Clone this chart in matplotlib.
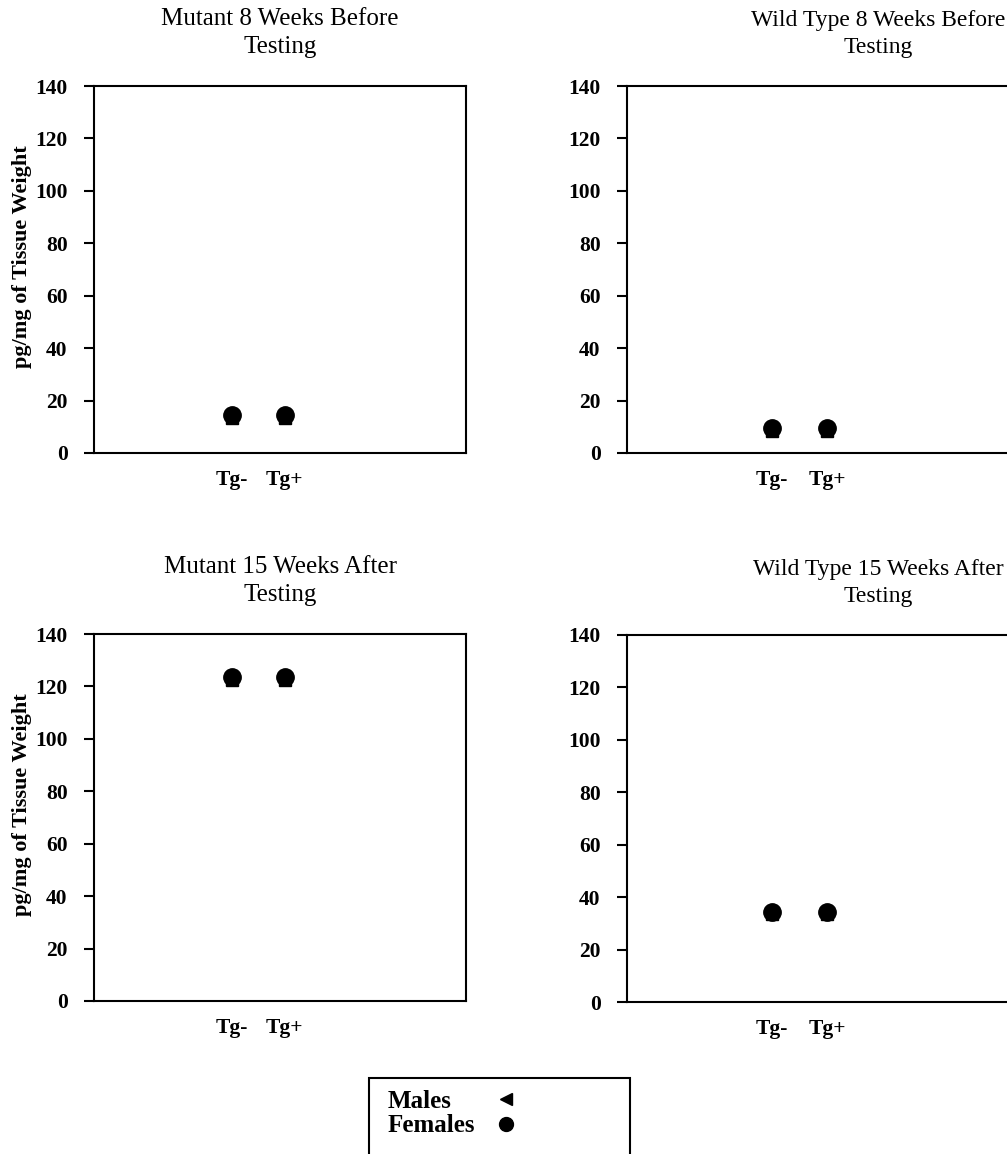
import numpy as np
import matplotlib.pyplot as plt
from matplotlib.lines import Line2D
from matplotlib.patches import Rectangle

plt.rcParams['font.family'] = ['Liberation Serif', 'DejaVu Serif']

groups = ['Tg-', 'Tg+']
titles = ['Mutant 8 Weeks Before\nTesting', 'Wild Type 8 Weeks Before\nTesting',
          'Mutant 15 Weeks After\nTesting', 'Wild Type 15 Weeks After\nTesting']
males = [[13.5, 13.5], [8.5, 8.5], [122.5, 122.5], [33.5, 33.5]]
females = [[14.5, 14.5], [9.5, 9.5], [123.5, 123.5], [34.5, 34.5]]
yticks = [0, 20, 40, 60, 80, 100, 120, 140]

fig = plt.figure(figsize=(10.07, 11.54), dpi=100)

W, H = 1007, 1154
# [left, top, right, bottom] in pixels
boxes = [[94, 86, 466, 453], [627, 86, 1017, 453],
         [94, 634, 466, 1001], [627, 635, 1017, 1002]]
title_x = [0.5, 0.645, 0.5, 0.645]
title_size = [18, 17, 18, 17]

xpos = np.array([1, 2])
for i, (l, t, r, b) in enumerate(boxes):
    ax = fig.add_axes([l / W, 1 - b / H, (r - l) / W, (b - t) / H])
    ax.plot(xpos, males[i], linestyle='none', marker='s', color='black', markersize=8.5)
    ax.plot(xpos, females[i], linestyle='none', marker='o', color='black', markersize=12.5)
    ax.set_xlim(-1.61, 5.43)
    ax.set_ylim(0, 140)
    ax.set_yticks(yticks)
    ax.set_xticks(xpos)
    ax.set_xticklabels(groups, fontsize=15.5, fontweight='bold')
    ax.tick_params(axis='x', length=0, pad=12)
    ax.tick_params(axis='y', direction='out', length=7, width=1.5, labelsize=15.5, pad=12)
    for lab in ax.get_yticklabels():
        lab.set_fontweight('bold')
    for s in ax.spines.values():
        s.set_linewidth(1.5)
    ax.set_title(titles[i], fontsize=title_size[i], x=title_x[i], pad=24, linespacing=1.35)
    if i % 2 == 0:
        ax.set_ylabel('pg/mg of Tissue Weight', fontsize=16, fontweight='bold')
        ax.yaxis.set_label_coords(-0.167, 0.534)

# legend: label column, then marker column
blank = Line2D([], [], linestyle='none')
handles = [blank, blank,
           Line2D([], [], linestyle='none', marker='<', color='black', markersize=9),
           Line2D([], [], linestyle='none', marker='o', color='black', markersize=10)]
leg = fig.legend(handles, ['Males', 'Females', '', ''], ncols=2, loc='upper left',
                 bbox_to_anchor=(373 / W, 1 - 1090 / H),
                 prop={'size': 18, 'weight': 'bold'}, frameon=False,
                 borderpad=0, handletextpad=0.0, handlelength=0.6, labelspacing=0.05,
                 columnspacing=0.9, borderaxespad=0)
fig.patches.append(Rectangle((369 / W, -0.05), (630 - 369) / W, 0.05 + 1 - 1078 / H,
                             transform=fig.transFigure, fill=False,
                             edgecolor='black', linewidth=1.5))

fig.savefig('out.png', dpi=100)
